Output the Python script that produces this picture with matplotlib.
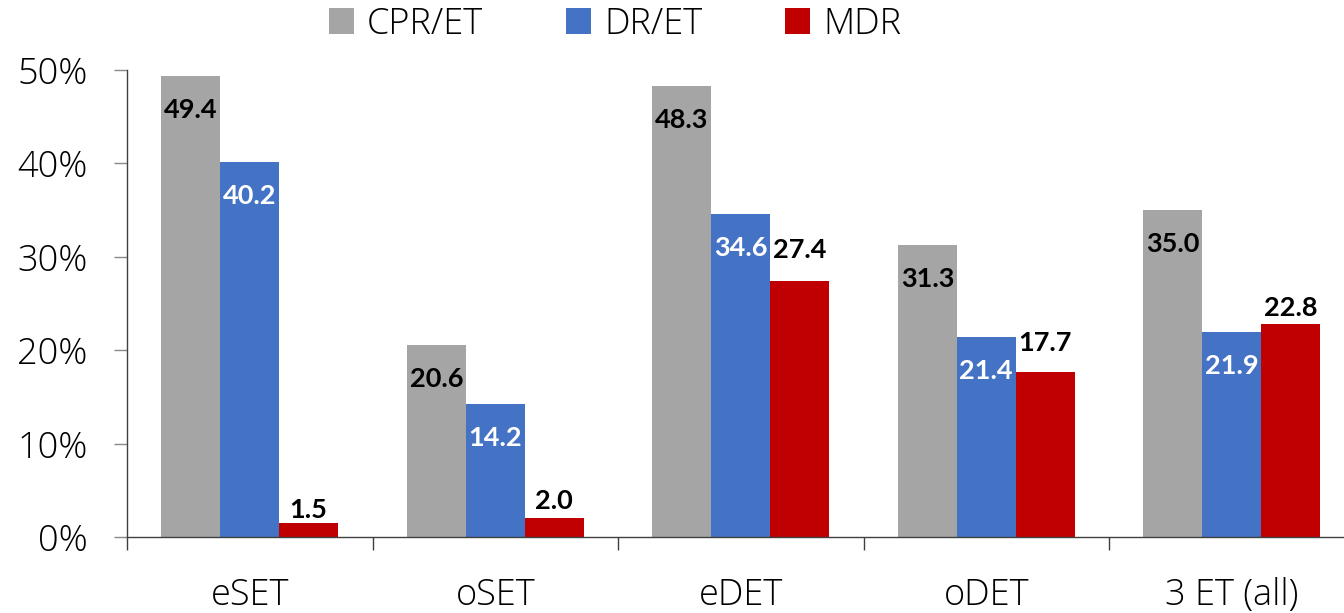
import numpy as np
import matplotlib
matplotlib.use("Agg")
import matplotlib.pyplot as plt
from matplotlib.patches import Patch
from matplotlib.ticker import FuncFormatter

# ------------------------------------------------------------
# Data (percent)
# ------------------------------------------------------------
categories = ["eSET", "oSET", "eDET", "oDET", "3 ET (all)"]
series_names = ["CPR/ET", "DR/ET", "MDR"]
cpr_et = [49.4, 20.6, 48.3, 31.3, 35.0]
dr_et = [40.2, 14.2, 34.6, 21.4, 21.9]
mdr = [1.5, 2.0, 27.4, 17.7, 22.8]
y_ticks = [0, 10, 20, 30, 40, 50]

colors = ["#A5A5A5", "#4472C4", "#C00000"]
label_colors = ["black", "white", "black"]
# red labels sit above their bars, each nudged a bit differently (pixels)
mdr_label_offsets = [13, 17, 31, 29, 16]

tick_font = dict(family="Open Sans", weight="light", size=26)
label_font = dict(family="Lato", weight="bold", size=19.5)

fig = plt.figure(figsize=(13.44, 6.13), dpi=100)
ax = fig.add_axes([127 / 1344, 76 / 613, 1227.5 / 1344, 467 / 613])

x = np.arange(len(categories))
w = 0.24
all_series = [cpr_et, dr_et, mdr]
for k, vals in enumerate(all_series):
    pos = x + (k - 1) * w
    ax.bar(pos, vals, width=w, color=colors[k], edgecolor="none", zorder=2)
    for i, v in enumerate(vals):
        if k < 2:
            ax.annotate(f"{v:.1f}", (pos[i], v), xytext=(0, -34),
                        textcoords="offset pixels", ha="center", va="center",
                        color=label_colors[k], **label_font)
        else:
            ax.annotate(f"{v:.1f}", (pos[i], v),
                        xytext=(0, mdr_label_offsets[i]),
                        textcoords="offset pixels", ha="center", va="center",
                        color=label_colors[k], **label_font)

ax.set_xlim(-0.5, len(categories) - 0.5)
ax.set_ylim(0, 50)

ax.set_yticks(y_ticks)
ax.yaxis.set_major_formatter(FuncFormatter(lambda v, p: f"{v:.0f}%"))
ax.set_xticks(x)
ax.set_xticklabels(categories)
ax.set_xticks(np.arange(-0.5, len(categories), 1), minor=True)

for lab in ax.get_yticklabels() + ax.get_xticklabels():
    lab.set_fontfamily(tick_font["family"])
    lab.set_fontweight(tick_font["weight"])
    lab.set_fontsize(tick_font["size"])

ax.tick_params(axis="y", which="major", length=9.4, width=1.0,
               color="#888888", pad=19)
ax.tick_params(axis="x", which="major", length=0, pad=29)
ax.tick_params(axis="x", which="minor", length=9.4, width=1.0,
               color="#404040", direction="out")

for s in ["top", "right"]:
    ax.spines[s].set_visible(False)
ax.spines["left"].set_color("#404040")
ax.spines["bottom"].set_color("#404040")
ax.spines["left"].set_linewidth(1.0)
ax.spines["bottom"].set_linewidth(1.0)

handles = [Patch(facecolor=c, edgecolor="none") for c in colors]
fig.legend(handles, series_names, loc="center", ncol=3,
           bbox_to_anchor=(615 / 1344, 1 - 24 / 613), frameon=False,
           prop=dict(family="Open Sans", weight="light", size=26),
           handlelength=0.7, handleheight=0.7, handletextpad=0.35,
           columnspacing=2.3, borderaxespad=0, borderpad=0)

fig.savefig("out.png", dpi=100)
